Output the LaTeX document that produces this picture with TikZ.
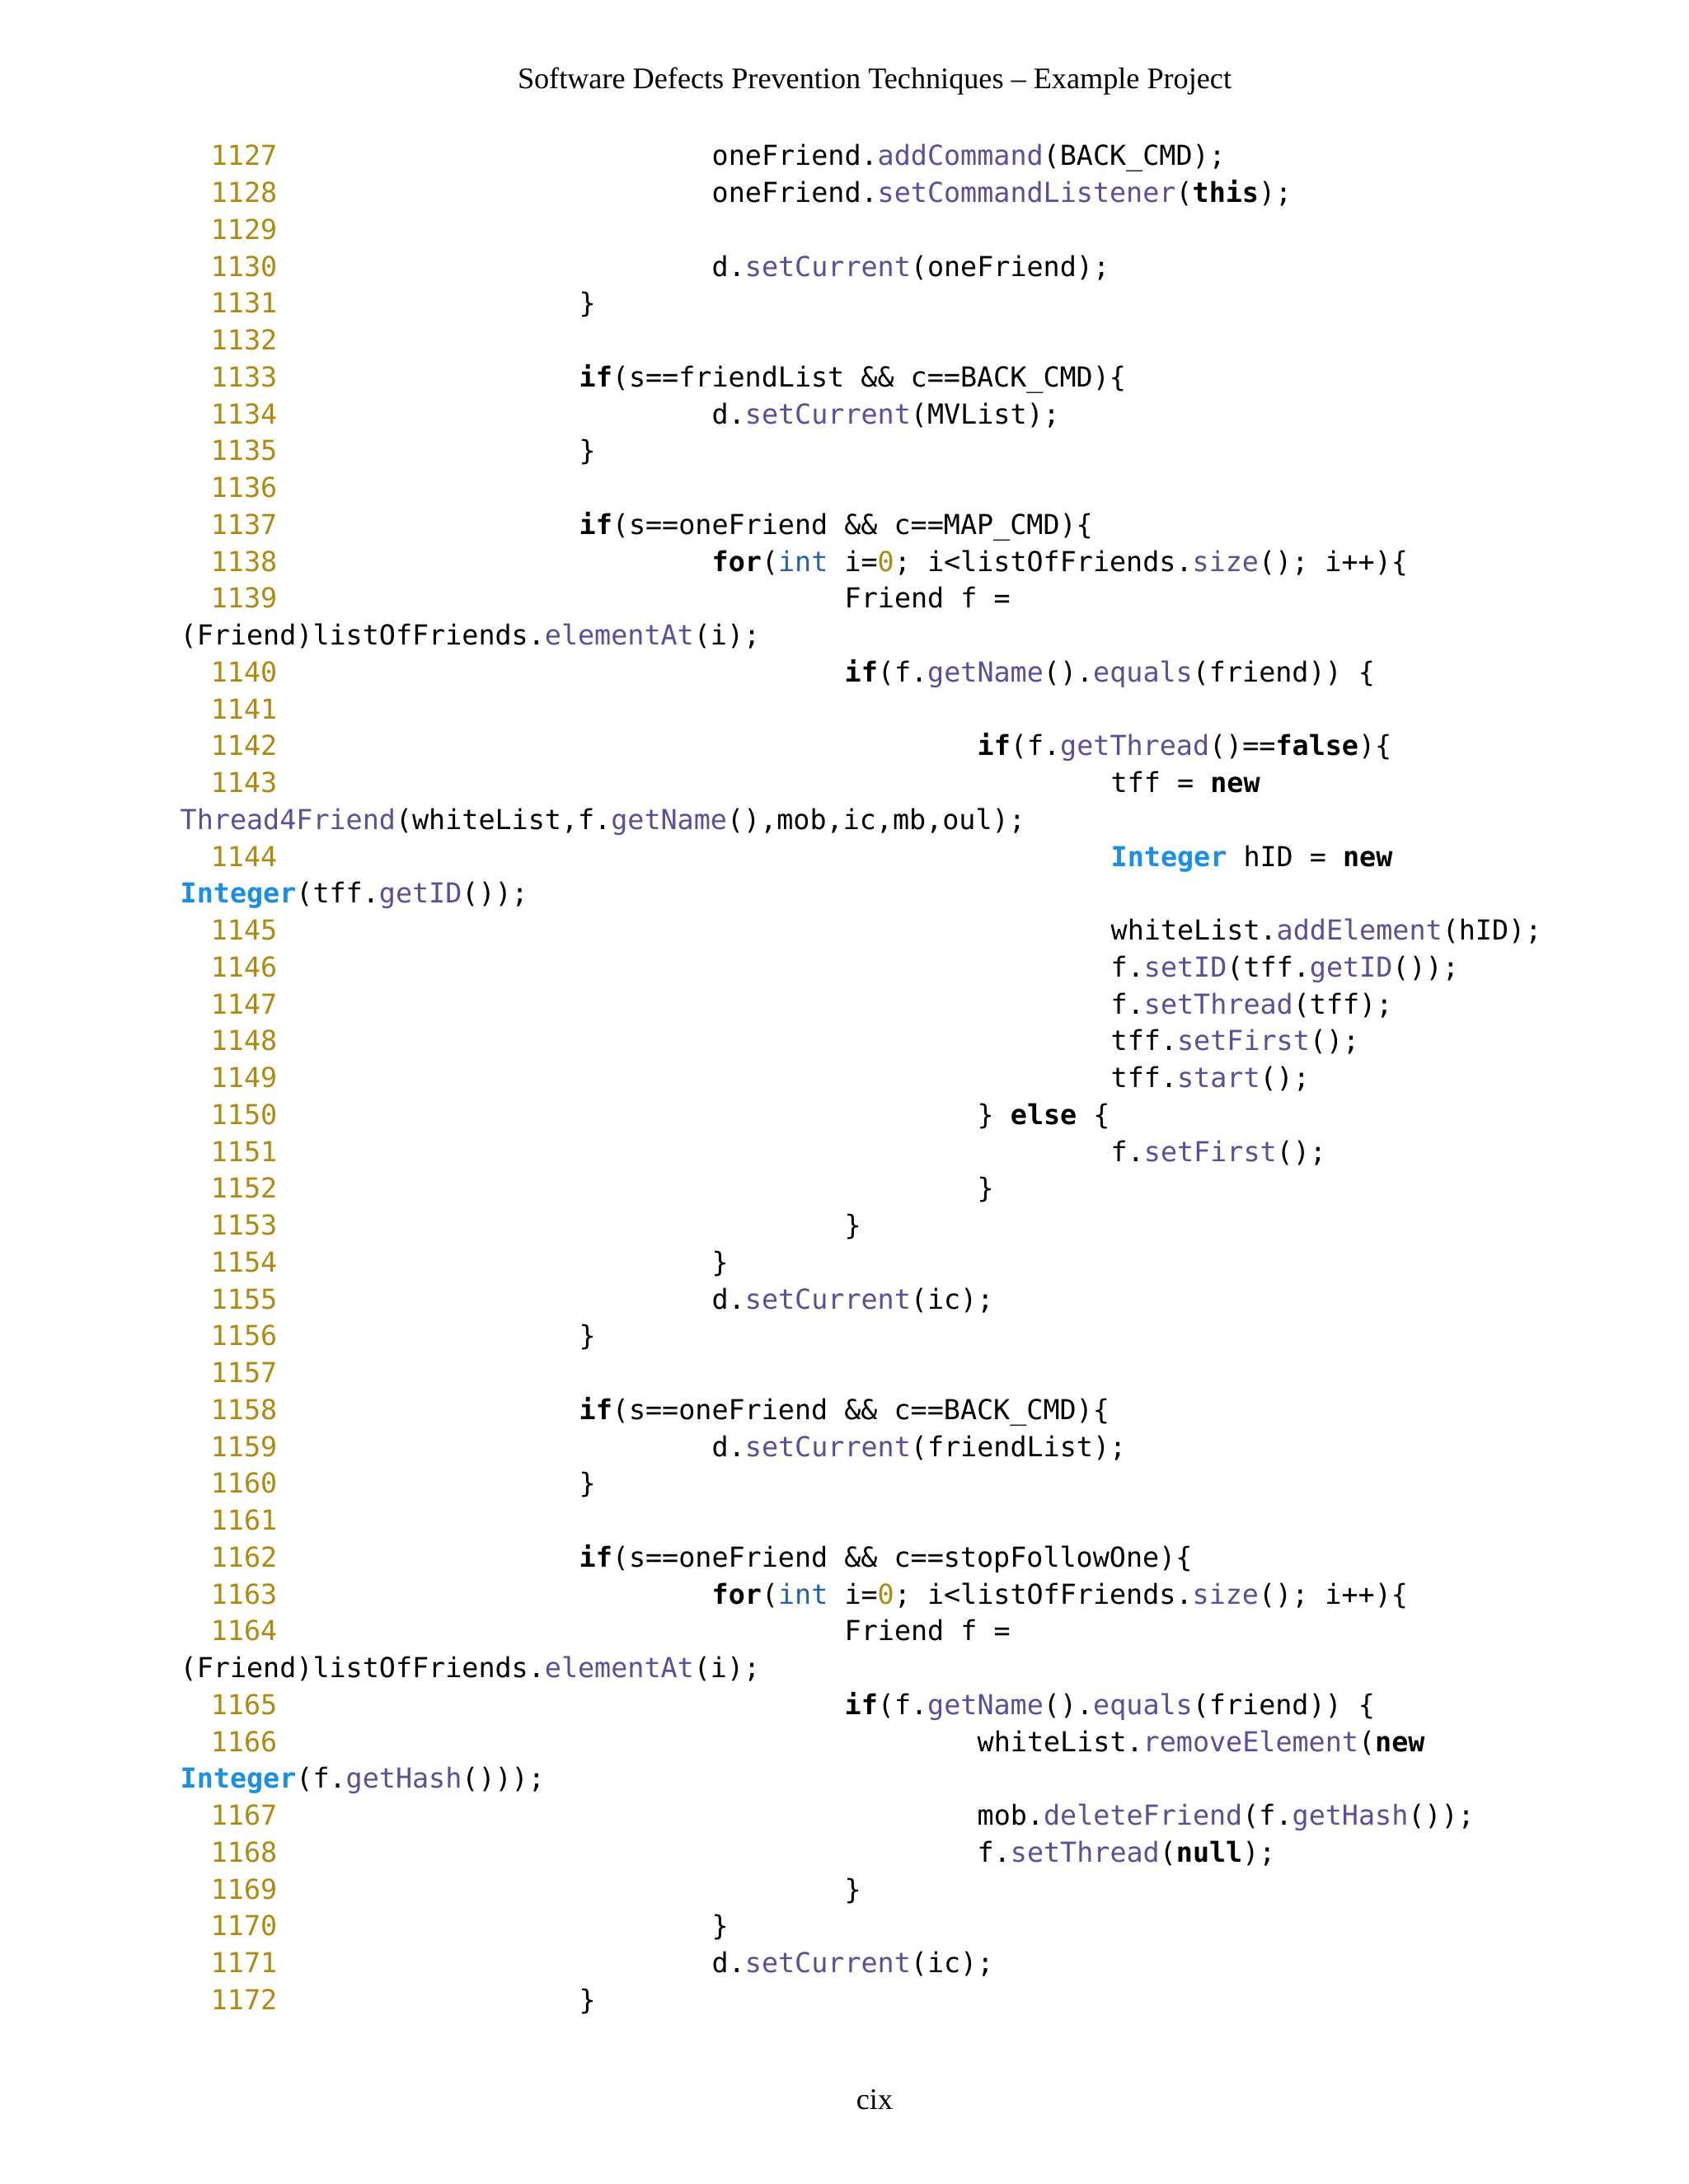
\documentclass[tikz,border=0pt]{standalone}
\usepackage{fontspec}
\setmainfont{Liberation Serif}
\newfontfamily\codefont{DejaVu Sans Mono}
\definecolor{numc}{HTML}{B08A10}
\definecolor{fnc}{HTML}{5C4E99}
\definecolor{intc}{HTML}{2563A8}
\definecolor{tyc}{HTML}{1A8FE3}
\newcommand\fn[1]{\textcolor{fnc}{#1}}
\newcommand\kw[1]{\textbf{#1}}
\newcommand\ty[1]{\textcolor{intc}{#1}}
\newcommand\ti[1]{\textcolor{tyc}{\textbf{#1}}}
\newcommand\nm[1]{\textcolor{numc}{#1}}
\newcommand\rowy[1]{26.5-2.01-#1*0.4475}
\newcommand\nl[2]{\node[lnum] (n#1) at (3.37,{\rowy{#1}}) {#2};}
\newcommand\cd[3]{\node[code] (c#1) at (#2,{\rowy{#1}}) {#3};}
\tikzset{
 lnum/.style={anchor=base east,inner sep=0pt,text=numc,font=\codefont\fontsize{9.5}{11}\selectfont},
 code/.style={anchor=base west,inner sep=0pt,font=\codefont\fontsize{9.5}{11}\selectfont},
 pagetext/.style={inner sep=0pt,anchor=base,font=\fontsize{10.3}{12}\selectfont}
}
\begin{document}
\begin{tikzpicture}
\useasboundingbox[fill=white] (0,0) rectangle (20.48,26.5);
\node[pagetext] (hdr) at (10.61,26.5-1.08) {Software Defects Prevention Techniques -- Example Project};
\node[pagetext] (ftr) at (10.61,26.5-25.6) {cix};
\def\Wa{2.18}\def\La{7.02}\def\Lb{8.63}\def\Lc{10.24}\def\Ld{11.85}\def\Le{13.47}
\nl{0}{1127}\cd{0}{\Lb}{oneFriend.\fn{addCommand}(BACK\_CMD);}
\nl{1}{1128}\cd{1}{\Lb}{oneFriend.\fn{setCommandListener}(\kw{this});}
\nl{2}{1129}
\nl{3}{1130}\cd{3}{\Lb}{d.\fn{setCurrent}(oneFriend);}
\nl{4}{1131}\cd{4}{\La}{\}}
\nl{5}{1132}
\nl{6}{1133}\cd{6}{\La}{\kw{if}(s==friendList \&\& c==BACK\_CMD)\{}
\nl{7}{1134}\cd{7}{\Lb}{d.\fn{setCurrent}(MVList);}
\nl{8}{1135}\cd{8}{\La}{\}}
\nl{9}{1136}
\nl{10}{1137}\cd{10}{\La}{\kw{if}(s==oneFriend \&\& c==MAP\_CMD)\{}
\nl{11}{1138}\cd{11}{\Lb}{\kw{for}(\ty{int} i=\nm{0}; i<listOfFriends.\fn{size}(); i++)\{}
\nl{12}{1139}\cd{12}{\Lc}{Friend f =}
\cd{13}{\Wa}{(Friend)listOfFriends.\fn{elementAt}(i);}
\nl{14}{1140}\cd{14}{\Lc}{\kw{if}(f.\fn{getName}().\fn{equals}(friend)) \{}
\nl{15}{1141}
\nl{16}{1142}\cd{16}{\Ld}{\kw{if}(f.\fn{getThread}()==\kw{false})\{}
\nl{17}{1143}\cd{17}{\Le}{tff = \kw{new}}
\cd{18}{\Wa}{\fn{Thread4Friend}(whiteList,f.\fn{getName}(),mob,ic,mb,oul);}
\nl{19}{1144}\cd{19}{\Le}{\ti{Integer} hID = \kw{new}}
\cd{20}{\Wa}{\ti{Integer}(tff.\fn{getID}());}
\nl{21}{1145}\cd{21}{\Le}{whiteList.\fn{addElement}(hID);}
\nl{22}{1146}\cd{22}{\Le}{f.\fn{setID}(tff.\fn{getID}());}
\nl{23}{1147}\cd{23}{\Le}{f.\fn{setThread}(tff);}
\nl{24}{1148}\cd{24}{\Le}{tff.\fn{setFirst}();}
\nl{25}{1149}\cd{25}{\Le}{tff.\fn{start}();}
\nl{26}{1150}\cd{26}{\Ld}{\} \kw{else} \{}
\nl{27}{1151}\cd{27}{\Le}{f.\fn{setFirst}();}
\nl{28}{1152}\cd{28}{\Ld}{\}}
\nl{29}{1153}\cd{29}{\Lc}{\}}
\nl{30}{1154}\cd{30}{\Lb}{\}}
\nl{31}{1155}\cd{31}{\Lb}{d.\fn{setCurrent}(ic);}
\nl{32}{1156}\cd{32}{\La}{\}}
\nl{33}{1157}
\nl{34}{1158}\cd{34}{\La}{\kw{if}(s==oneFriend \&\& c==BACK\_CMD)\{}
\nl{35}{1159}\cd{35}{\Lb}{d.\fn{setCurrent}(friendList);}
\nl{36}{1160}\cd{36}{\La}{\}}
\nl{37}{1161}
\nl{38}{1162}\cd{38}{\La}{\kw{if}(s==oneFriend \&\& c==stopFollowOne)\{}
\nl{39}{1163}\cd{39}{\Lb}{\kw{for}(\ty{int} i=\nm{0}; i<listOfFriends.\fn{size}(); i++)\{}
\nl{40}{1164}\cd{40}{\Lc}{Friend f =}
\cd{41}{\Wa}{(Friend)listOfFriends.\fn{elementAt}(i);}
\nl{42}{1165}\cd{42}{\Lc}{\kw{if}(f.\fn{getName}().\fn{equals}(friend)) \{}
\nl{43}{1166}\cd{43}{\Ld}{whiteList.\fn{removeElement}(\kw{new}}
\cd{44}{\Wa}{\ti{Integer}(f.\fn{getHash}()));}
\nl{45}{1167}\cd{45}{\Ld}{mob.\fn{deleteFriend}(f.\fn{getHash}());}
\nl{46}{1168}\cd{46}{\Ld}{f.\fn{setThread}(\kw{null});}
\nl{47}{1169}\cd{47}{\Lc}{\}}
\nl{48}{1170}\cd{48}{\Lb}{\}}
\nl{49}{1171}\cd{49}{\Lb}{d.\fn{setCurrent}(ic);}
\nl{50}{1172}\cd{50}{\La}{\}}
\end{tikzpicture}
\end{document}
